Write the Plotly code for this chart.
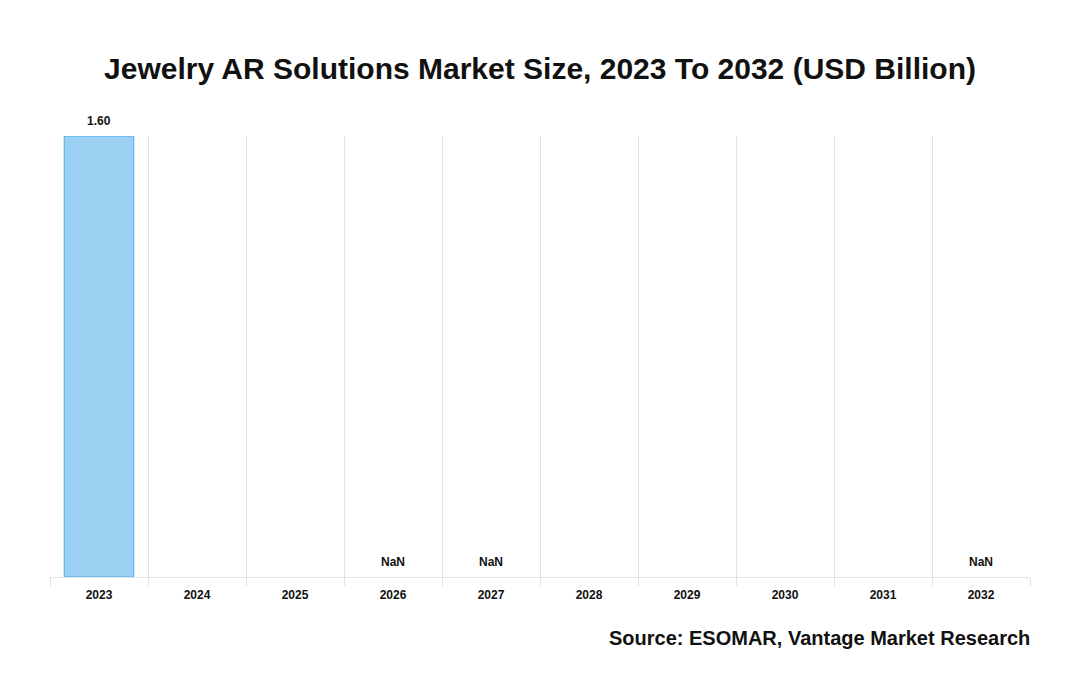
import plotly.graph_objects as go

years = ["2023", "2024", "2025", "2026", "2027", "2028", "2029", "2030", "2031", "2032"]
values = [1.60, None, None, None, None, None, None, None, None, None]
labels = ["1.60", "", "", "NaN", "NaN", "", "", "", "", "NaN"]

FONT = "Liberation Sans, Arial, sans-serif"

fig = go.Figure()
fig.add_trace(go.Bar(
    x=years, y=values,
    marker=dict(color="#9dd1f3", line=dict(color="#4baae9", width=1)),
    width=0.71,
    cliponaxis=False,
    hoverinfo="x+y",
))

for i, (v, l) in enumerate(zip(values, labels)):
    if l:
        fig.add_annotation(x=i, y=v if v is not None else 0, xref="x", yref="y",
                           text="<b>" + l + "</b>",
                           showarrow=False, yanchor="bottom", yshift=6,
                           font=dict(family=FONT, size=12, color="#111111"))

fig.update_layout(
    width=1080, height=700,
    margin=dict(l=50, r=50, t=136, b=123),
    paper_bgcolor="white", plot_bgcolor="white",
    showlegend=False,
    title=dict(text="<b>Jewelry AR Solutions Market Size, 2023 To 2032 (USD Billion)</b>",
               x=0.5, xanchor="center", y=1 - 68 / 700, yanchor="middle",
               font=dict(family=FONT, size=30, color="#111111")),
    xaxis=dict(type="category", tickson="boundaries", showgrid=True, gridcolor="#e3e3e3",
               gridwidth=1, ticks="outside", ticklen=8, tickcolor="#e3e3e3",
               showline=True, linecolor="#e3e3e3", linewidth=1,
               range=[-0.5, 9.5], ticklabelstandoff=7,
               tickfont=dict(family=FONT, size=12, color="#111111"),
               tickprefix="<b>", ticksuffix="</b>"),
    yaxis=dict(range=[0, 1.6], showgrid=False, showticklabels=False, zeroline=False,
               showline=False),
)

fig.add_annotation(text="<b>Source: ESOMAR, Vantage Market Research</b>",
                   xref="paper", yref="paper", x=1, y=-(638 - 577) / 441, xshift=2,
                   xanchor="right", yanchor="middle", showarrow=False,
                   font=dict(family=FONT, size=20, color="#111111"))

fig.write_html("out.html", config={"displayModeBar": False},
               post_script="document.body.style.margin='0';")
